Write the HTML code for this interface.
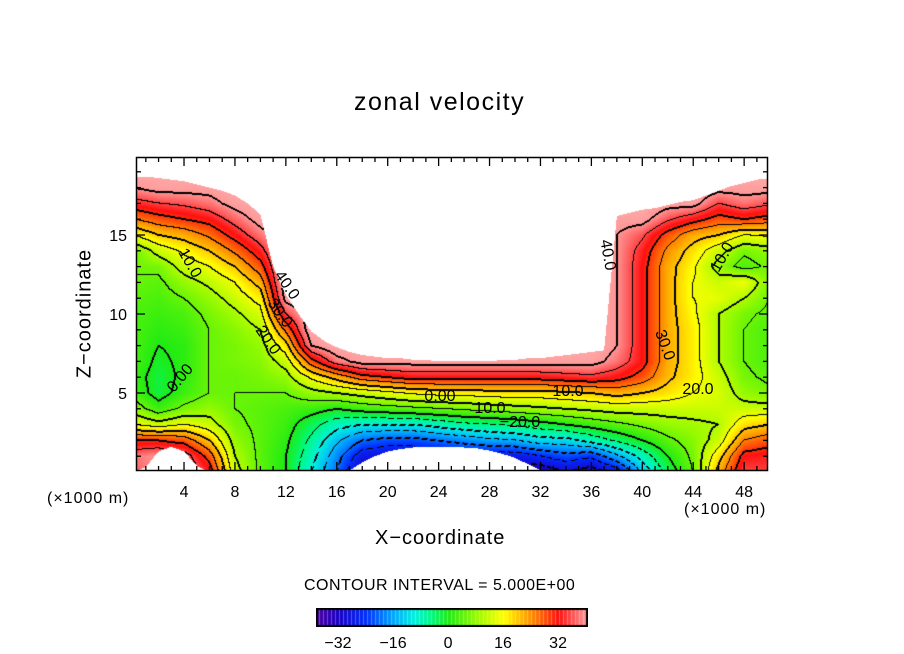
<!DOCTYPE html>
<html><head><meta charset="utf-8"><style>
body{margin:0;background:#fff;width:904px;height:654px;overflow:hidden;position:relative;font-family:"Liberation Sans",sans-serif}
.t{position:absolute;white-space:nowrap;color:#000}
canvas{position:absolute}
</style></head><body>
<div class="t" style="left:354px;top:88px;font-size:25px;letter-spacing:1.5px">zonal velocity</div>
<canvas id="plot" width="632" height="314" style="left:136px;top:157px"></canvas>
<svg id="ov" width="904" height="654" style="position:absolute;left:0;top:0"></svg>
<div class="t" style="left:20px;top:302px;font-size:20px;letter-spacing:1px;transform:rotate(-90deg);transform-origin:center;width:130px;text-align:center">Z−coordinate</div>
<div class="t" style="left:375px;top:527px;font-size:20px;letter-spacing:1px">X−coordinate</div>
<div class="t" style="left:47px;top:490px;font-size:16px;letter-spacing:1px">(×1000 m)</div>
<div class="t" style="left:684px;top:501px;font-size:16px;letter-spacing:1px">(×1000 m)</div>
<div class="t" style="left:304px;top:577px;font-size:16px;letter-spacing:0.5px">CONTOUR INTERVAL = 5.000E+00</div>
<canvas id="cbar" width="272" height="19" style="left:316px;top:608px"></canvas>
<script>
// data
const xGrid=[0,2,4,6,8,10,12,14,16,18,20,22,24,26,28,30,32,34,36,38,40,42,44,46,48,50];
const topMask=[18.7,18.7,18.6,18.5,18.4,18.2,18.0,17.8,17.5,17.0,16.3,13.0,11.2,10.0,8.9,8.3,7.9,7.6,7.4,7.3,7.2,7.2,7.1,7.1,7.0,7.0,7.0,7.0,7.0,7.1,7.1,7.2,7.2,7.3,7.4,7.5,7.6,7.7,16.2,16.4,16.6,16.7,16.9,17.1,17.2,17.5,17.8,18.1,18.3,18.5,18.6];
const bottomMask=[0,0.3,1.3,1.6,1.3,0.4,0,0,0,0,0,0,0,0,0,0,0,0.1,0.6,1.0,1.3,1.45,1.55,1.6,1.6,1.6,1.55,1.5,1.35,1.15,0.9,0.5,0.1,0,0,0,0,0,0,0,0,0,0,0,0,0,0,0,0,0,0];
const velocity=[
[36,38,30,15,8,3,2,3,3,3,3,4,5,5,5,15,25,33,40,44,44],
[40,40,30,12,2,-2,-2,-1,0,1,2,3,4,6,12,20,28,35,42,44,44],
[40,38,28,15,6,2,1,1,1,2,3,5,8,12,16,22,30,36,42,44,44],
[33,28,20,12,8,5,5,5,5,5,6,8,11,15,20,26,32,38,42,44,44],
[12,10,8,6,5,5,5,6,6,7,9,12,15,20,26,32,37,42,44,44,44],
[4,4,4,4,4,5,6,7,8,10,13,17,22,28,33,38,42,44,44,44,44],
[0,0,1,2,3,5,8,12,18,26,35,42,44,44,44,44,44,44,44,44,44],
[-10,-8,-6,-3,2,8,16,28,40,44,44,44,44,44,44,44,44,44,44,44,44],
[-20,-18,-14,-8,0,10,22,38,44,44,44,44,44,44,44,44,44,44,44,44,44],
[-32,-28,-20,-10,2,12,28,42,44,44,44,44,44,44,44,44,44,44,44,44,44],
[-30,-30,-22,-10,3,14,30,42,44,44,44,44,44,44,44,44,44,44,44,44,44],
[-30,-30,-22,-10,4,16,32,42,44,44,44,44,44,44,44,44,44,44,44,44,44],
[-30,-30,-20,-8,5,17,32,42,44,44,44,44,44,44,44,44,44,44,44,44,44],
[-30,-28,-18,-6,6,17,32,42,44,44,44,44,44,44,44,44,44,44,44,44,44],
[-32,-28,-16,-5,7,18,32,42,44,44,44,44,44,44,44,44,44,44,44,44,44],
[-34,-28,-15,-4,8,18,32,42,44,44,44,44,44,44,44,44,44,44,44,44,44],
[-34,-25,-12,-2,9,18,32,42,44,44,44,44,44,44,44,44,44,44,44,44,44],
[-30,-22,-12,0,10,19,33,42,44,44,44,44,44,44,44,44,44,44,44,44,44],
[-33,-24,-8,2,11,20,34,42,44,44,44,44,44,44,44,44,44,44,44,44,44],
[-28,-16,-4,4,12,22,32,38,40,40,40,40,40,40,40,40,42,44,44,44,44],
[-14,-8,0,6,12,20,28,32,32,32,32,32,32,32,33,36,42,44,44,44,44],
[-3,0,4,8,12,18,21,22,22,22,22,22,22,22,24,28,36,42,44,44,44],
[5,6,7,9,12,15,17,17,17,17,16,15,15,16,18,22,32,42,44,44,44],
[22,18,12,10,12,13,12,10,10,10,10,14,12,8,12,20,28,35,42,44,44],
[35,32,25,18,12,8,6,5,5,5,6,10,15,3,6,15,30,38,42,44,44],
[35,33,28,20,12,6,4,3,3,3,4,5,6,6,8,16,28,36,42,44,44]];
const xTicks=[4,8,12,16,20,24,28,32,36,40,44,48];
const zTicks=[5,10,15];
const cbTicks=[-32,-16,0,16,32];
const labels=[["40.0",287,290,55],["30.0",280,318,55],["20.0",268,345,55],["10.0",190,268,60],["0.00",180,383,-50],["0.00",440,401,0],["10.0",490,413,0],["−20.0",520,427,0],["10.0",568,396,0],["20.0",698,394,0],["30.0",665,350,70],["40.0",608,260,80],["10.0",722,262,-60]];

// axes
const X0=133.1,XS=12.73,Z0=472,ZS=15.8;
const xp=x=>X0+XS*x, zp=z=>Z0-ZS*z;
const stops=[[-40,[90,0,150]],[-32,[26,0,200]],[-24,[0,48,255]],[-16,[0,168,255]],[-10,[0,240,224]],[-5,[0,250,130]],[0,[30,235,20]],[8,[150,250,0]],[16,[255,255,0]],[24,[255,144,0]],[32,[255,16,16]],[40,[255,150,150]],[44,[255,170,170]]];
function cmap(v){if(v<=stops[0][0])return stops[0][1];for(let i=1;i<stops.length;i++){if(v<=stops[i][0]){const a=stops[i-1],b=stops[i],t=(v-a[0])/(b[0]-a[0]);return a[1].map((c,k)=>c+(b[1][k]-c)*t);}}return stops[stops.length-1][1];}
function lerpArr(arr,x){const i=Math.max(0,Math.min(arr.length-2,Math.floor(x)));const t=x-i;return arr[i]*(1-t)+arr[i+1]*t;}
function field(x,z){const gx=Math.max(0,Math.min(24.999,x/2)),i=Math.floor(gx),tx=gx-i;const gz=Math.max(0,Math.min(19.999,z)),j=Math.floor(gz),tz=gz-j;
const a=velocity[i][j],b=velocity[i+1][j],c=velocity[i][j+1],d=velocity[i+1][j+1];return (a*(1-tx)+b*tx)*(1-tz)+(c*(1-tx)+d*tx)*tz;}
const cv=document.getElementById('plot'),ctx=cv.getContext('2d');const W=632,H=314;
const img=ctx.createImageData(W,H);const val=new Float32Array(W*H),msk=new Uint8Array(W*H);
for(let py=0;py<H;py++)for(let px=0;px<W;px++){const x=(136+px+0.5-X0)/XS,z=(Z0-(157+py+0.5))/ZS;const xc=Math.max(0,Math.min(50,x));
const k=py*W+px;if(z>lerpArr(topMask,xc)||z<lerpArr(bottomMask,xc)){msk[k]=1;continue;}val[k]=field(x,z);}
for(let py=0;py<H;py++)for(let px=0;px<W;px++){const k=py*W+px,o=k*4;let col=[255,255,255];
if(!msk[k]){col=cmap(val[k]);const L=Math.floor(val[k]/5);let line=false;
const nb=[[1,0],[0,1],[-1,0],[0,-1]];for(const[dx,dy]of nb){const qx=px+dx,qy=py+dy;if(qx<0||qy<0||qx>=W||qy>=H)continue;const q=qy*W+qx;if(msk[q])continue;const L2=Math.floor(val[q]/5);
if(L2!==L&&(dx>0||dy>0)){line=true;const lev=Math.max(L,L2)*5;if(lev<0&&((px+py)%9)>5)line=false;}
if(L2!==L&&(dx<0||dy<0)){const lev=Math.max(L,L2)*5;if(lev%10===0){line=true;if(lev<0&&((px+py)%9)>5)line=false;}}}
if(line)col=[0,0,0];}
img.data[o]=col[0];img.data[o+1]=col[1];img.data[o+2]=col[2];img.data[o+3]=255;}
ctx.putImageData(img,0,0);
// colorbar
const cb=document.getElementById('cbar'),cc=cb.getContext('2d');
for(let i=0;i<272;i++){const v=-38.4+i/272*79.1;const c=cmap(v);cc.fillStyle=(i%4===3)?'rgb('+c.map(q=>Math.round(q*0.7+76)).join(',')+')':'rgb('+c.map(Math.round).join(',')+')';cc.fillRect(i,0,1,19);}
cc.strokeStyle='#000';cc.lineWidth=2;cc.strokeRect(1,1,270,17);
// svg overlay
const ns='http://www.w3.org/2000/svg',sv=document.getElementById('ov');
function mk(t,a){const e=document.createElementNS(ns,t);for(const k in a)e.setAttribute(k,a[k]);sv.appendChild(e);return e;}
const fr=mk('rect',{x:136.5,y:157.5,width:631,height:313,fill:'none',stroke:'#000','stroke-width':1.5});


for(let x=1;x<50;x++){const big=x%4===0;const L=big?9:5;mk('line',{x1:xp(x),x2:xp(x),y1:471,y2:471-L,stroke:'#000','stroke-width':1.3});mk('line',{x1:xp(x),x2:xp(x),y1:157,y2:157+L,stroke:'#000','stroke-width':1.3});}
for(let z=1;z<20;z++){const big=z%5===0;const L=big?9:5;mk('line',{x1:136,x2:136+L,y1:zp(z),y2:zp(z),stroke:'#000','stroke-width':1.3});mk('line',{x1:768,x2:768-L,y1:zp(z),y2:zp(z),stroke:'#000','stroke-width':1.3});}
xTicks.forEach(v=>{const t=mk('text',{x:xp(v),y:497,'text-anchor':'middle','font-size':16,'font-family':'Liberation Sans'});t.textContent=v;

});
zTicks.forEach(v=>{const t=mk('text',{x:127,y:zp(v)+6,'text-anchor':'end','font-size':16,'font-family':'Liberation Sans'});t.textContent=v;

});
cbTicks.forEach(v=>{const t=mk('text',{x:316+(v+38.4)/79.1*272,y:648,'text-anchor':'middle','font-size':16,'font-family':'Liberation Sans'});t.textContent=(v<0?'−':'')+Math.abs(v);

});
labels.forEach(l=>{const t=mk('text',{x:l[1],y:l[2],'text-anchor':'middle','font-size':16,'font-family':'Liberation Sans',transform:'rotate('+l[3]+' '+l[1]+' '+(l[2]-5)+')'});t.textContent=l[0];

});
</script>
</body></html>
